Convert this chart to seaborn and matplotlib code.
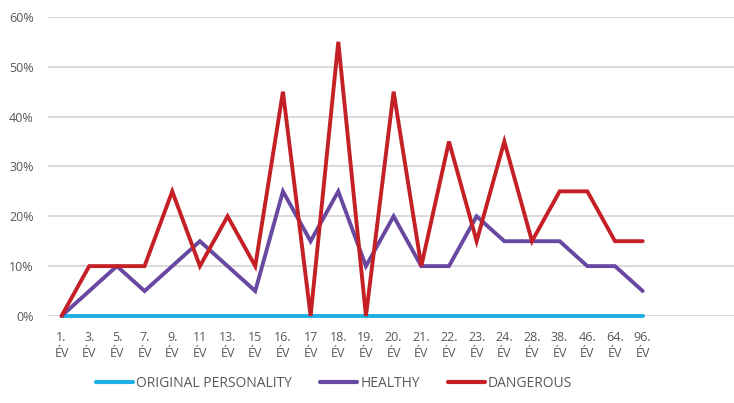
import pandas as pd
import matplotlib.pyplot as plt
import seaborn as sns
from matplotlib.ticker import PercentFormatter

# chart data
categories = ["1.\nÉV", "3.\nÉV", "5.\nÉV", "7.\nÉV", "9.\nÉV", "11\nÉV", "13.\nÉV",
              "15\nÉV", "16.\nÉV", "17\nÉV", "18.\nÉV", "19.\nÉV", "20.\nÉV", "21.\nÉV",
              "22.\nÉV", "23.\nÉV", "24.\nÉV", "28.\nÉV", "38.\nÉV", "46.\nÉV", "64.\nÉV",
              "96.\nÉV"]
original = [0] * 22
healthy = [0, 5, 10, 5, 10, 15, 10, 5, 25, 15, 25, 10, 20, 10, 10, 20, 15, 15, 15, 10, 10, 5]
dangerous = [0, 10, 10, 10, 25, 10, 20, 10, 45, 0, 55, 0, 45, 10, 35, 15, 35, 15, 25, 25, 15, 15]

series_names = ["ORIGINAL PERSONALITY", "HEALTHY", "DANGEROUS"]
palette = {"ORIGINAL PERSONALITY": "#1CB0E4", "HEALTHY": "#6848A0", "DANGEROUS": "#C42026"}

rows = []
for name, vals in zip(series_names, [original, healthy, dangerous]):
    for i, (c, v) in enumerate(zip(categories, vals)):
        rows.append({"pos": i, "cat": c, "value": v / 100, "series": name})
df = pd.DataFrame(rows)

sns.set_style("white")
plt.rcParams['font.family'] = ['Open Sans', 'DejaVu Sans']

fig = plt.figure(figsize=(7.34, 4.03), dpi=100)
ax = fig.add_axes([0.065, 0.216, 0.935, 0.742])

sns.lineplot(data=df, x="pos", y="value", hue="series", hue_order=series_names,
             palette=palette, linewidth=2.8, ax=ax, legend=False)
for ln in ax.lines:
    ln.set_clip_on(False)
    ln.set_solid_capstyle("round")
    ln.set_solid_joinstyle("miter")

ax.set_ylim(0, 0.6)
ax.set_xlim(-0.5, 24.3)
ax.set_yticks([0, 0.1, 0.2, 0.3, 0.4, 0.5, 0.6])
ax.yaxis.set_major_formatter(PercentFormatter(1.0, decimals=0))
ax.set_xticks(range(len(categories)))
ax.set_xticklabels(categories, fontsize=9, color="#595959", linespacing=1.3)
ax.tick_params(axis="y", labelsize=9, labelcolor="#595959", length=0, pad=10)
ax.tick_params(axis="x", length=0, pad=11)
ax.grid(axis="y", color="#D9D9D9", linewidth=1.4)
ax.set_axisbelow(True)
for s in ax.spines.values():
    s.set_visible(False)
ax.set_xlabel("")
ax.set_ylabel("")

handles = [plt.Line2D([0], [0], color=palette[n], linewidth=3, solid_capstyle="round")
           for n in series_names]
fig.legend(handles, series_names, loc="center", bbox_to_anchor=(0.455, 0.048), ncol=3,
           frameon=False, fontsize=10, labelcolor="#595959", handlelength=2.7,
           handletextpad=0.2, columnspacing=2.0)

plt.savefig("out.png", dpi=100)
plt.close()
